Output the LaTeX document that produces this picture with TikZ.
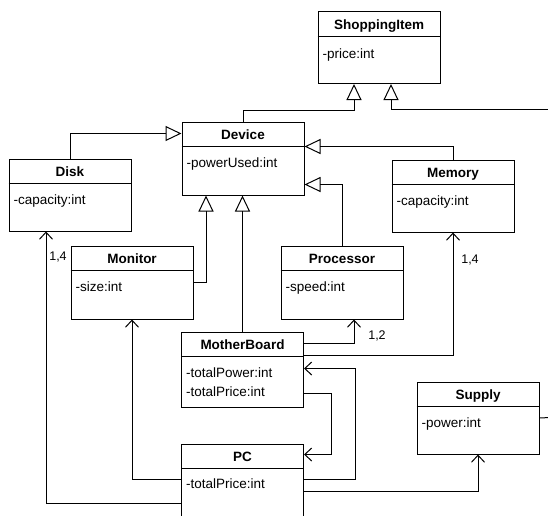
\documentclass[tikz,border=0pt]{standalone}
\usepackage{fontspec}
\setmainfont{Liberation Sans}
\usetikzlibrary{arrows.meta}
\begin{document}
\begin{tikzpicture}[x=1pt,y=-1pt,
 cls/.style={draw, line width=1pt, minimum width=122pt, inner sep=0pt, fill=white},
 ttl/.style={font=\bfseries\fontsize{13.5}{15}\selectfont, inner sep=0pt, anchor=base},
 attr/.style={font=\fontsize{13.5}{15}\selectfont, inner sep=0pt, anchor=base west},
 lnk/.style={line width=1pt},
 inh/.style={lnk, -{Triangle[open, length=16pt, width=15pt, line width=1pt]}},
 asc/.style={lnk, -{Straight Barb[length=7pt, width=13pt, line width=1pt]}},
 mult/.style={font=\fontsize{12.5}{14}\selectfont, inner sep=0pt}
]
\useasboundingbox (0,0) rectangle (548,515);
\clip (0,0) rectangle (548,515);

% class boxes
\node[cls, minimum height=72pt] (si) at (379,47.5) {};
\node[cls, minimum height=73pt] (dev) at (243,158.5) {};
\node[cls, minimum height=72pt] (disk) at (70,195) {};
\node[cls, minimum height=72pt] (mem) at (453,196) {};
\node[cls, minimum height=73pt] (mon) at (132,282.5) {};
\node[cls, minimum height=73pt] (proc) at (342,282.5) {};
\node[cls, minimum height=75pt] (mb) at (242.5,369.5) {};
\node[cls, minimum height=80pt] (pc) at (242.5,484) {};
\node[cls, minimum height=72pt] (sup) at (478,418) {};

% separators, titles, attributes
\foreach \n/\t in {si/ShoppingItem, dev/Device, disk/Disk, mem/Memory, mon/Monitor, proc/Processor, mb/MotherBoard, pc/PC, sup/Supply}{
  \draw[lnk] ([yshift=-25pt]\n.north west) -- ([yshift=-25pt]\n.north east);
  \node[ttl] (\n T) at ([yshift=-18pt]\n.north) {\t};
}
\node[attr] (siA) at ([xshift=5pt,yshift=-47pt]si.north west) {-price:int};
\node[attr] (devA) at ([xshift=5pt,yshift=-46pt]dev.north west) {-powerUsed:int};
\node[attr] (diskA) at ([xshift=5pt,yshift=-46pt]disk.north west) {-capacity:int};
\node[attr] (memA) at ([xshift=5pt,yshift=-46pt]mem.north west) {-capacity:int};
\node[attr] (monA) at ([xshift=5pt,yshift=-46pt]mon.north west) {-size:int};
\node[attr] (procA) at ([xshift=5pt,yshift=-46pt]proc.north west) {-speed:int};
\node[attr] (mbA) at ([xshift=5pt,yshift=-46pt]mb.north west) {-totalPower:int};
\node[attr] (mbB) at ([xshift=5pt,yshift=-65pt]mb.north west) {-totalPrice:int};
\node[attr] (pcA) at ([xshift=5pt,yshift=-45pt]pc.north west) {-totalPrice:int};
\node[attr] (supA) at ([xshift=5pt,yshift=-46pt]sup.north west) {-power:int};

% off-picture ends
\coordinate (offA) at (560,109);
\coordinate (offB) at (560,417);

% generalisations
\draw[inh] (dev.north) |- ([xshift=-25pt,yshift=-26pt]si.south) -- ([xshift=-25pt]si.south);
\draw[inh] (offA) -| ([xshift=12pt]si.south);
\draw[inh] (disk.north) |- ([yshift=-12pt]dev.north west);
\draw[inh] (mem.north) |- ([yshift=-25pt]dev.north east);
\draw[inh] (proc.north) |- ([yshift=11pt]dev.south east);
\draw[inh] (mon.east) -| ([xshift=-37pt]dev.south);
\draw[inh] (mb.north) -- (mb.north |- dev.south);

% associations
\draw[asc] ([yshift=-12pt]mb.north east) -| ([xshift=12pt]proc.south);
\draw[asc] ([yshift=-24pt]mb.north east) -| (mem.south);
\draw[asc] ([yshift=-62pt]mb.north east) -| ([xshift=27pt,yshift=-11pt]pc.north east) -- ([yshift=-11pt]pc.north east);
\draw[asc] ([yshift=-36pt]pc.north east) -| ([xshift=51pt,yshift=-37pt]mb.north east) -- ([yshift=-37pt]mb.north east);
\draw[asc] ([yshift=-48pt]pc.north east) -| (sup.south);
\draw[asc] ([yshift=-36pt]pc.north west) -| (mon.south);
\draw[asc] ([yshift=-60pt]pc.north west) -| ([xshift=-24pt]disk.south);
\draw[lnk] (sup.east) -- (offB);

% multiplicities
\node[mult] (m1) at (58,257) {1,4};
\node[mult] (m2) at (470,260) {1,4};
\node[mult] (m3) at (377,336) {1,2};
\end{tikzpicture}
\end{document}
